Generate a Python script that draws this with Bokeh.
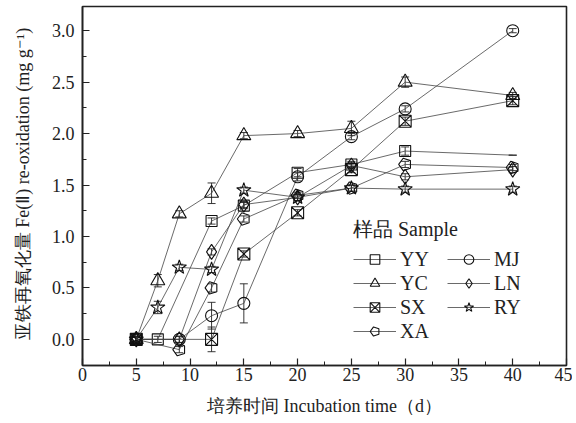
import math
from bokeh.plotting import figure
from bokeh.models import (ColumnDataSource, Whisker, TeeHead, FixedTicker, Legend,
                          LegendItem, Range1d, NumeralTickFormatter)
from bokeh.embed import file_html
from bokeh.resources import INLINE

# ---------------- data ----------------
times = [5, 7, 9, 12, 15, 20, 25, 30, 40]
YY = [0.0, 0.0, None, 1.15, 1.30, 1.62, 1.70, 1.83, 1.79]
YC = [0.0, 0.57, 1.22, 1.42, 1.98, 2.00, 2.05, 2.50, 2.37]
SX = [0.0, None, None, 0.0, 0.83, 1.23, 1.65, 2.12, 2.32]
XA = [0.0, None, -0.10, 0.50, 1.17, 1.40, 1.47, 1.70, 1.67]
MJ = [0.0, None, 0.0, 0.23, 0.35, 1.58, 1.97, 2.24, 3.00]
LN = [0.0, None, 0.0, 0.85, 1.31, 1.38, 1.69, 1.58, 1.65]
RY = [0.0, 0.31, 0.70, 0.68, 1.45, 1.38, 1.47, 1.46, 1.46]

YY_err = [0.02, 0.03, None, 0.03, 0.03, 0.04, 0.03, 0.04, 0.0]
YC_err = [0.03, 0.06, 0.03, 0.10, 0.03, 0.03, 0.07, 0.05, 0.03]
SX_err = [0.02, None, None, 0.12, 0.03, 0.03, 0.03, 0.04, 0.04]
XA_err = [0.02, None, 0.03, 0.04, 0.03, 0.03, 0.03, 0.03, 0.03]
MJ_err = [0.02, None, 0.03, 0.13, 0.19, 0.04, 0.03, 0.03, 0.02]
LN_err = [0.02, None, 0.03, 0.03, 0.03, 0.03, 0.03, 0.03, 0.03]
RY_err = [0.03, 0.06, 0.03, 0.03, 0.03, 0.03, 0.03, 0.03, 0.03]

# YY has no symbol drawn at the last time point
YY_marker_last = False

x_ticks = [0, 5, 10, 15, 20, 25, 30, 35, 40, 45]
y_ticks = [0.0, 0.5, 1.0, 1.5, 2.0, 2.5, 3.0]

x_label = "培养时间 Incubation time（d）"
y_label = "亚铁再氧化量 Fe(Ⅱ) re-oxidation (mg g⁻¹)"
legend_title = "样品 Sample"

series = [
    ("YY", YY, YY_err, "square"),
    ("YC", YC, YC_err, "triangle"),
    ("SX", SX, SX_err, "square_x"),
    ("XA", XA, XA_err, "pentagon"),
    ("MJ", MJ, MJ_err, "circle"),
    ("LN", LN, LN_err, "diamond"),
    ("RY", RY, RY_err, "star"),
]

FONT = "Liberation Serif"
LINE_COLOR = "#444444"

p = figure(width=572, height=418, output_backend="svg", toolbar_location=None,
           x_range=Range1d(0, 45), y_range=Range1d(-0.254, 3.235),
           min_border_left=82, min_border_right=6, min_border_top=6,
           min_border_bottom=40)
p.background_fill_color = "white"
p.border_fill_color = "white"
p.grid.visible = False
p.outline_line_color = "#222222"
p.outline_line_width = 1.6

p.xaxis.ticker = FixedTicker(ticks=x_ticks, minor_ticks=[2.5 + 5 * i for i in range(9)])
p.yaxis.ticker = FixedTicker(ticks=y_ticks, minor_ticks=[-0.25 + 0.5 * i for i in range(8)])
p.yaxis.formatter = NumeralTickFormatter(format="0.0")

for ax in (p.xaxis[0], p.yaxis[0]):
    ax.axis_line_width = 1.6
    ax.axis_line_color = "#222222"
    ax.major_tick_in = 7
    ax.major_tick_out = 0
    ax.minor_tick_in = 4
    ax.minor_tick_out = 0
    ax.major_tick_line_color = "#222222"
    ax.minor_tick_line_color = "#222222"
    ax.major_tick_line_width = 1.2
    ax.minor_tick_line_width = 1.0
    ax.major_label_text_font = FONT
    ax.major_label_text_font_size = "18px"
    ax.major_label_text_color = "#222222"
    ax.axis_label_text_font = FONT
    ax.axis_label_text_font_size = "18px"
    ax.axis_label_text_font_style = "normal"
    ax.axis_label_text_color = "#222222"

p.xaxis.axis_label = x_label
p.yaxis.axis_label = y_label
p.xaxis.major_label_standoff = 2
p.xaxis.axis_label_standoff = 12
p.yaxis.major_label_standoff = 8
p.yaxis.axis_label_standoff = 16

items = {}
for name, vals, errs, marker in series:
    xs = [t for t, v in zip(times, vals) if v is not None]
    ys = [v for v in vals if v is not None]
    es = [e for v, e in zip(vals, errs) if v is not None]
    src = ColumnDataSource(dict(x=xs, y=ys, lo=[y - e for y, e in zip(ys, es)],
                                hi=[y + e for y, e in zip(ys, es)]))
    lr = p.line("x", "y", source=src, line_color=LINE_COLOR, line_width=0.8)
    w = Whisker(base="x", lower="lo", upper="hi", source=src,
                line_color="#222222", line_width=0.9,
                lower_head=TeeHead(size=8, line_color="#222222", line_width=0.9),
                upper_head=TeeHead(size=8, line_color="#222222", line_width=0.9))
    p.add_layout(w)
    mxs, mys = list(xs), list(ys)
    if name == "YY" and not YY_marker_last:
        mxs, mys = mxs[:-1], mys[:-1]
    msrc = ColumnDataSource(dict(x=mxs, y=mys))
    if marker == "pentagon":
        mr = p.ngon("x", "y", source=msrc, radius=6.5, radius_units="screen", n=5,
                    angle=math.pi / 2, fill_color=None, line_color="#111111",
                    line_width=1.1)
    else:
        size = {"square": 11, "triangle": 14, "square_x": 12, "circle": 12,
                "diamond": 15, "star": 15}[marker]
        mr = p.scatter("x", "y", source=msrc, marker=marker, size=size,
                       fill_color=None, line_color="#111111", line_width=1.1)
    items[name] = LegendItem(label=name, renderers=[lr, mr])

# legend fills column by column
order = ["YY", "YC", "SX", "XA", "MJ", "LN", "RY"]
legend = Legend(items=[items[n] for n in order], location=(271, 22), ncols=2,
                title=legend_title, title_text_font=FONT, title_text_font_size="20px",
                title_text_font_style="normal", title_text_color="#222222",
                title_standoff=4,
                label_text_font=FONT, label_text_font_size="20px",
                label_text_color="#222222", label_standoff=4, label_width=47,
                label_height=24, glyph_width=43, glyph_height=24, spacing=0,
                padding=0, margin=0, border_line_color=None,
                background_fill_alpha=0)
p.add_layout(legend)

open("out.html", "w").write(file_html(p, INLINE))
